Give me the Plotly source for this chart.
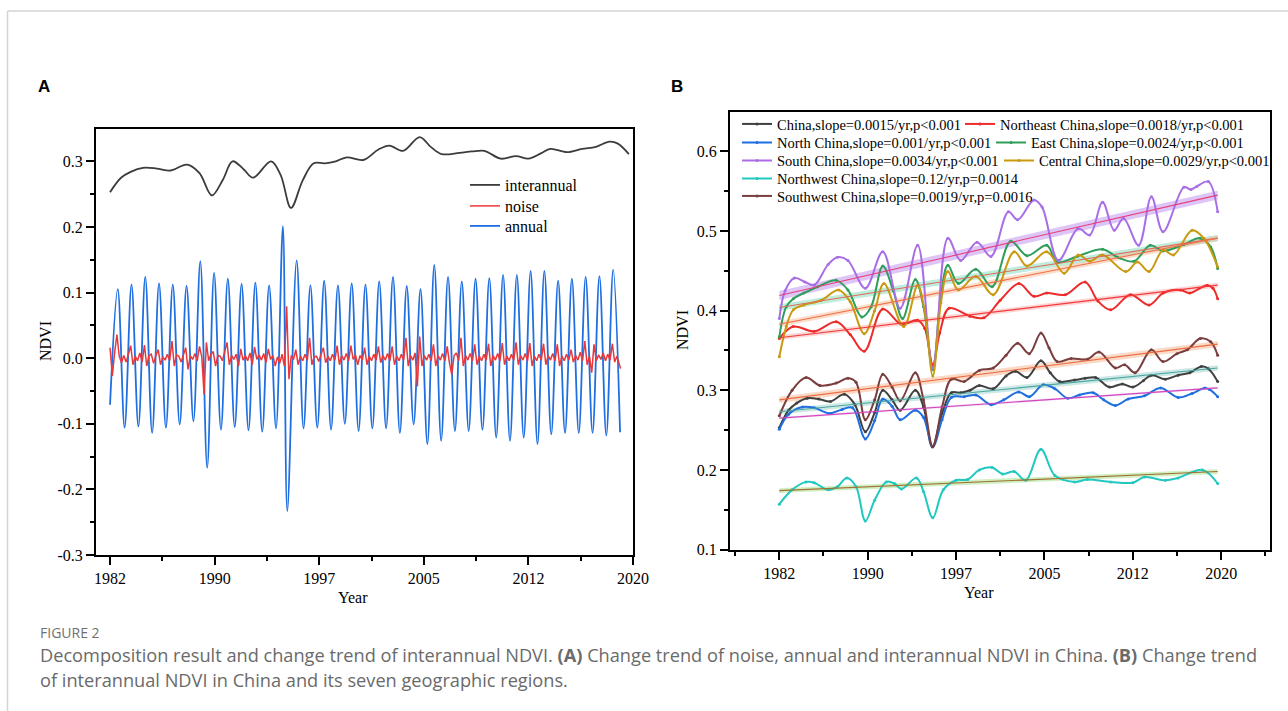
import plotly.graph_objects as go

W, H = 1288, 711
SERIF = "Liberation Serif"

# ------------------------------------------------------------------ Panel A data
ANNUAL_START = -0.071  # value at 1982.0
# annual-component peaks (one per year, mid-year), 1982..2018
ANNUAL_PEAKS = [0.105, 0.112, 0.124, 0.114, 0.112, 0.110, 0.148, 0.130, 0.121, 0.113,
                0.115, 0.111, 0.201, 0.149, 0.111, 0.118, 0.111, 0.114, 0.112, 0.117,
                0.124, 0.110, 0.105, 0.142, 0.124, 0.117, 0.121, 0.122, 0.127, 0.127,
                0.133, 0.133, 0.118, 0.121, 0.124, 0.125, 0.135]
# annual-component troughs (start of each year), 1983..2019
ANNUAL_TROUGHS = [-0.106, -0.104, -0.114, -0.106, -0.101, -0.096, -0.167, -0.109, -0.105, -0.110,
                  -0.112, -0.107, -0.233, -0.107, -0.106, -0.109, -0.100, -0.111, -0.107, -0.107,
                  -0.114, -0.101, -0.131, -0.126, -0.111, -0.111, -0.109, -0.121, -0.126, -0.121,
                  -0.131, -0.116, -0.114, -0.114, -0.114, -0.118, -0.113]
PEAK_PHASE = 0.56
TROUGH_PHASE = 0.06
TROUGH_PHASE_1995 = -0.12

# noise component, six readings per year 1982..2018, then the final reading
NOISE_ROWS = [
    [0.016, -0.027, 0.008, 0.036, 0.003, -0.007],
    [0.004, -0.006, 0.006, 0.019, -0.010, 0.003],
    [-0.004, 0.008, -0.006, 0.020, -0.012, 0.004],
    [0.006, -0.008, 0.004, 0.013, -0.010, 0.002],
    [-0.003, 0.006, -0.004, 0.026, -0.012, 0.005],
    [0.003, -0.006, 0.005, 0.016, -0.017, 0.004],
    [-0.002, 0.007, -0.004, 0.018, 0.002, -0.055],
    [0.024, -0.004, 0.006, 0.010, -0.012, 0.004],
    [0.003, -0.004, 0.010, 0.024, -0.010, 0.004],
    [-0.002, 0.006, -0.012, 0.014, -0.003, 0.004],
    [-0.004, 0.008, -0.010, 0.017, -0.002, 0.005],
    [-0.003, 0.007, -0.007, 0.014, -0.002, 0.004],
    [-0.012, 0.002, -0.008, 0.006, -0.012, 0.079],
    [-0.032, 0.004, -0.002, 0.013, -0.010, 0.003],
    [-0.004, 0.006, -0.003, 0.031, -0.010, 0.002],
    [0.003, -0.005, 0.006, 0.016, -0.007, 0.003],
    [-0.004, 0.006, -0.003, 0.019, -0.010, 0.004],
    [-0.003, 0.007, -0.004, 0.019, -0.002, 0.005],
    [-0.010, 0.004, -0.003, 0.016, -0.010, 0.003],
    [-0.004, 0.006, -0.003, 0.018, -0.007, 0.004],
    [-0.003, 0.007, -0.004, 0.018, -0.010, 0.003],
    [-0.004, 0.006, -0.003, 0.031, -0.012, 0.004],
    [-0.003, 0.008, -0.043, 0.033, -0.012, 0.004],
    [-0.003, 0.006, -0.004, 0.021, -0.012, 0.004],
    [-0.003, 0.007, -0.004, 0.018, -0.008, -0.025],
    [0.004, 0.008, -0.004, 0.031, -0.012, 0.004],
    [-0.003, 0.007, -0.004, 0.021, -0.010, 0.003],
    [-0.004, 0.006, -0.003, 0.022, -0.012, 0.004],
    [-0.003, 0.007, -0.004, 0.023, -0.010, 0.003],
    [-0.004, 0.006, -0.003, 0.024, -0.010, 0.004],
    [-0.003, 0.007, -0.004, 0.023, -0.012, 0.003],
    [-0.004, 0.006, -0.003, 0.022, -0.010, 0.004],
    [-0.003, 0.007, -0.004, 0.021, -0.012, 0.003],
    [-0.004, 0.006, -0.003, 0.013, -0.006, 0.004],
    [-0.003, 0.009, -0.004, 0.026, -0.010, 0.003],
    [-0.022, 0.021, -0.004, 0.005, -0.002, 0.008],
    [-0.004, 0.006, -0.003, 0.022, -0.006, 0.003],
]
NOISE_END = -0.016
NOISE_END_YEAR = 2019.1

# ------------------------------------------------------------------ Panel B data
CHINA_T = [1982.0, 1982.8, 1983.5, 1984.4, 1985.4, 1986.4, 1987.6, 1988.5, 1989.4, 1990.2,
           1990.9, 1991.7, 1992.4, 1993.7, 1994.4, 1995.15, 1996.0, 1996.8, 1997.6, 1998.4,
           1999.2, 2000.4, 2001.5, 2002.3, 2003.3, 2004.5, 2005.3, 2006.1, 2007.4, 2008.3,
           2009.2, 2010.4, 2011.5, 2012.4, 2013.3, 2014.0, 2015.2, 2016.3, 2017.3, 2018.3,
           2018.9, 2019.7]
CHINA_V = [0.253, 0.275, 0.284, 0.290, 0.289, 0.286, 0.295, 0.282, 0.248, 0.272,
           0.300, 0.288, 0.275, 0.300, 0.279, 0.229, 0.271, 0.297, 0.297, 0.300,
           0.306, 0.302, 0.318, 0.324, 0.316, 0.337, 0.322, 0.311, 0.313, 0.315,
           0.316, 0.304, 0.308, 0.304, 0.312, 0.319, 0.314, 0.319, 0.322, 0.330,
           0.327, 0.311]

NE_T = [1982.0, 1983.2, 1985.0, 1986.9, 1988.1, 1989.3, 1990.9, 1992.5, 1993.9, 1994.5,
        1995.2, 1995.8, 1996.6, 1998.4, 1999.6, 2001.0, 2002.6, 2003.9, 2005.0, 2006.6,
        2008.3, 2009.4, 2010.5, 2012.2, 2013.8, 2015.0, 2016.5, 2017.3, 2018.8, 2019.3,
        2019.7]
NE_V = [0.365, 0.380, 0.374, 0.386, 0.370, 0.349, 0.402, 0.383, 0.388, 0.378,
        0.332, 0.372, 0.403, 0.393, 0.391, 0.413, 0.434, 0.418, 0.422, 0.420,
        0.436, 0.412, 0.401, 0.420, 0.407, 0.422, 0.426, 0.422, 0.432, 0.428,
        0.415]

NORTH_T = [1982.0, 1982.8, 1984.0, 1985.0, 1986.3, 1987.4, 1988.3, 1989.4, 1990.2, 1990.9,
           1991.7, 1992.4, 1993.7, 1994.4, 1995.2, 1996.0, 1996.8, 1997.9, 1998.9, 2000.2,
           2001.3, 2002.6, 2003.5, 2004.7, 2005.7, 2006.8, 2007.8, 2009.0, 2009.9, 2010.9,
           2012.0, 2013.4, 2014.8, 2016.3, 2017.5, 2018.6, 2019.0, 2019.7]
NORTH_V = [0.251, 0.270, 0.279, 0.278, 0.271, 0.276, 0.278, 0.239, 0.262, 0.289,
           0.280, 0.263, 0.275, 0.266, 0.229, 0.263, 0.291, 0.292, 0.294, 0.282,
           0.288, 0.298, 0.292, 0.307, 0.302, 0.290, 0.294, 0.297, 0.288, 0.281,
           0.289, 0.293, 0.303, 0.291, 0.296, 0.303, 0.301, 0.292]

EAST_T = [1982.0, 1982.6, 1983.2, 1984.1, 1985.3, 1986.9, 1987.9, 1989.1, 1989.9, 1990.9,
          1991.8, 1992.6, 1993.7, 1994.4, 1995.2, 1995.9, 1996.5, 1997.4, 1998.9, 2000.3,
          2001.9, 2003.3, 2005.0, 2005.9, 2007.6, 2009.8, 2011.1, 2012.5, 2013.9, 2015.0,
          2016.8, 2018.2, 2019.1, 2019.7]
EAST_V = [0.367, 0.405, 0.415, 0.422, 0.430, 0.438, 0.426, 0.392, 0.405, 0.456,
          0.425, 0.390, 0.439, 0.405, 0.326, 0.420, 0.457, 0.434, 0.452, 0.430,
          0.487, 0.469, 0.482, 0.461, 0.468, 0.477, 0.467, 0.462, 0.482, 0.475,
          0.483, 0.491, 0.480, 0.453]

SOUTH_T = [1982.0, 1982.5, 1983.3, 1984.2, 1985.0, 1986.2, 1987.0, 1987.9, 1989.4, 1990.9,
           1992.4, 1993.9, 1995.2, 1996.5, 1997.6, 1999.0, 2000.2, 2001.7, 2002.5, 2003.9,
           2004.6, 2006.0, 2007.7, 2008.7, 2009.8, 2010.8, 2011.6, 2012.9, 2014.0, 2015.0,
           2016.8, 2017.4, 2017.9, 2018.9, 2019.7]
SOUTH_V = [0.390, 0.425, 0.441, 0.436, 0.432, 0.458, 0.467, 0.463, 0.428, 0.474,
           0.403, 0.482, 0.328, 0.491, 0.463, 0.486, 0.468, 0.524, 0.514, 0.539,
           0.530, 0.463, 0.503, 0.495, 0.536, 0.501, 0.516, 0.482, 0.543, 0.499,
           0.555, 0.552, 0.556, 0.562, 0.524]

CENTRAL_T = [1982.0, 1982.6, 1983.2, 1984.1, 1985.6, 1987.1, 1988.1, 1989.3, 1990.2, 1991.0,
             1992.7, 1993.9, 1994.5, 1995.2, 1995.9, 1996.5, 1997.4, 1998.9, 2000.4, 2002.2,
             2003.3, 2005.0, 2006.5, 2007.7, 2008.7, 2009.8, 2011.8, 2012.8, 2013.8, 2015.0,
             2015.9, 2017.5, 2018.5, 2019.7]
CENTRAL_V = [0.342, 0.380, 0.401, 0.407, 0.413, 0.426, 0.411, 0.371, 0.400, 0.434,
             0.380, 0.432, 0.400, 0.318, 0.410, 0.449, 0.426, 0.443, 0.420, 0.474,
             0.456, 0.474, 0.447, 0.470, 0.462, 0.470, 0.449, 0.461, 0.449, 0.476,
             0.470, 0.501, 0.491, 0.455]

NW_T = [1982.0, 1983.1, 1984.3, 1985.0, 1986.2, 1987.0, 1987.8, 1988.6, 1989.4, 1990.2,
        1991.2, 1991.9, 1992.5, 1993.8, 1994.4, 1995.2, 1996.1, 1997.2, 1998.2, 1999.2,
        2000.3, 2001.2, 2002.2, 2003.2, 2004.5, 2005.7, 2007.4, 2008.5, 2010.5, 2012.4,
        2013.4, 2015.2, 2016.3, 2018.4, 2019.7]
NW_V = [0.157, 0.175, 0.185, 0.184, 0.175, 0.179, 0.190, 0.179, 0.136, 0.162,
        0.185, 0.183, 0.176, 0.190, 0.173, 0.140, 0.175, 0.187, 0.188, 0.200,
        0.203, 0.195, 0.198, 0.187, 0.226, 0.193, 0.185, 0.188, 0.185, 0.184,
        0.191, 0.187, 0.190, 0.200, 0.183]

SW_T = [1982.0, 1983.1, 1984.3, 1985.5, 1986.9, 1987.9, 1988.6, 1989.4, 1990.2, 1990.9,
        1991.7, 1992.4, 1993.7, 1994.4, 1995.2, 1996.0, 1996.8, 1997.9, 1999.2, 2000.4,
        2001.5, 2002.5, 2003.5, 2004.5, 2005.2, 2005.9, 2007.1, 2008.5, 2009.5, 2010.9,
        2011.7, 2012.6, 2014.0, 2015.0, 2016.2, 2017.1, 2018.2, 2019.1, 2019.7]
SW_V = [0.268, 0.300, 0.316, 0.306, 0.309, 0.315, 0.310, 0.263, 0.288, 0.320,
        0.304, 0.287, 0.322, 0.288, 0.229, 0.279, 0.314, 0.311, 0.325, 0.328,
        0.344, 0.359, 0.346, 0.372, 0.353, 0.336, 0.340, 0.339, 0.348, 0.328,
        0.332, 0.322, 0.351, 0.336, 0.346, 0.351, 0.365, 0.361, 0.344]

# linear trends: value at 1982.0 and at 2019.7, plus half-width of the confidence band
TREND_YEARS = [1982.0, 2019.7]
CHINA_TREND = [0.273, 0.328]
NE_TREND = [0.366, 0.432]
NORTH_TREND = [0.265, 0.303]
EAST_TREND = [0.404, 0.491]
SOUTH_TREND = [0.419, 0.545]
CENTRAL_TREND = [0.383, 0.491]
NW_TREND = [0.174, 0.198]
SW_TREND = [0.288, 0.358]
BAND_HW = [0.0035, 0.003, 0.0015, 0.004, 0.0055, 0.0035, 0.003, 0.004]

NAMES = ["China,slope=0.0015/yr,p<0.001", "Northeast China,slope=0.0018/yr,p<0.001",
         "North China,slope=0.001/yr,p<0.001", "East China,slope=0.0024/yr,p<0.001",
         "South China,slope=0.0034/yr,p<0.001", "Central China,slope=0.0029/yr,p<0.001",
         "Northwest China,slope=0.12/yr,p=0.0014", "Southwest China,slope=0.0019/yr,p=0.0016"]

MAJOR_TICKS = [1982, 1989.6, 1997.2, 2004.8, 2012.4, 2020]
MAJOR_LABELS = ["1982", "1990", "1997", "2005", "2012", "2020"]

# ------------------------------------------------------------------ build panel A series
ann_x, ann_y = [1982.0], [ANNUAL_START]
for i, p in enumerate(ANNUAL_PEAKS):
    yr = 1982 + i
    ann_x.append(yr + PEAK_PHASE)
    ann_y.append(p)
    ty = yr + 1
    ann_x.append(ty + (TROUGH_PHASE_1995 if ty == 1995 else TROUGH_PHASE))
    ann_y.append(ANNUAL_TROUGHS[i])

noise_x, noise_y = [], []
for i, row in enumerate(NOISE_ROWS):
    for j, v in enumerate(row):
        noise_x.append(1982 + i + j / 6.0)
        noise_y.append(v)
noise_x.append(NOISE_END_YEAR)
noise_y.append(NOISE_END)

fig = go.Figure()

fig.add_trace(go.Scatter(x=CHINA_T, y=CHINA_V, mode="lines", name="interannual",
                         line=dict(color="#3c3c3c", width=1.8, shape="spline", smoothing=1),
                         xaxis="x", yaxis="y", legend="legend"))
fig.add_trace(go.Scatter(x=ann_x, y=ann_y, mode="lines", name="annual",
                         line=dict(color="#1f6fe0", width=1.8, shape="spline", smoothing=1),
                         xaxis="x", yaxis="y", legend="legend3"))
fig.add_trace(go.Scatter(x=noise_x, y=noise_y, mode="lines", name="noise",
                         line=dict(color="#e8383c", width=1.5),
                         xaxis="x", yaxis="y", legend="legend2"))

# ------------------------------------------------------------------ panel B
series = [
    (CHINA_T, CHINA_V, CHINA_TREND, "#404040", "#4aa6a0", "rgba(90,180,170,0.30)"),
    (NE_T, NE_V, NE_TREND, "#ee2b2b", "#f23a3a", "rgba(250,150,150,0.40)"),
    (NORTH_T, NORTH_V, NORTH_TREND, "#1f6fe0", "#d048c0", "rgba(210,90,200,0.20)"),
    (EAST_T, EAST_V, EAST_TREND, "#2e9e5a", "#e06a5a", "rgba(110,215,180,0.45)"),
    (SOUTH_T, SOUTH_V, SOUTH_TREND, "#a96ee6", "#e8407a", "rgba(190,140,240,0.50)"),
    (CENTRAL_T, CENTRAL_V, CENTRAL_TREND, "#c99a10", "#f07048", "rgba(245,180,140,0.45)"),
    (NW_T, NW_V, NW_TREND, "#22c8c0", "#a07030", "rgba(150,220,120,0.45)"),
    (SW_T, SW_V, SW_TREND, "#7a3e3e", "#ec6a40", "rgba(245,170,130,0.45)"),
]

for k, (t, v, tr, col, tcol, bcol) in enumerate(series):
    hw = BAND_HW[k]
    fig.add_trace(go.Scatter(x=TREND_YEARS, y=[tr[0] - hw, tr[1] - hw], mode="lines",
                             line=dict(width=0, color=bcol), showlegend=False,
                             hoverinfo="skip", xaxis="x2", yaxis="y2"))
    fig.add_trace(go.Scatter(x=TREND_YEARS, y=[tr[0] + hw, tr[1] + hw], mode="lines",
                             line=dict(width=0, color=bcol), fill="tonexty", fillcolor=bcol,
                             showlegend=False, hoverinfo="skip", xaxis="x2", yaxis="y2"))

for k, (t, v, tr, col, tcol, bcol) in enumerate(series):
    fig.add_trace(go.Scatter(x=t, y=v, mode="lines+markers", name=NAMES[k],
                             line=dict(color=col, width=2, shape="spline", smoothing=1),
                             marker=dict(color=col, size=3),
                             xaxis="x2", yaxis="y2", legend="legend%d" % (k + 4)))

for k, (t, v, tr, col, tcol, bcol) in enumerate(series):
    fig.add_trace(go.Scatter(x=TREND_YEARS, y=tr, mode="lines",
                             line=dict(color=tcol, width=1.1), showlegend=False,
                             hoverinfo="skip", xaxis="x2", yaxis="y2"))

# ------------------------------------------------------------------ layout
def px_x(v):
    return v / W


def px_y(v):
    return 1 - v / H


def legend_at(text_x, center_y, size):
    return dict(x=px_x(text_x - 40), y=px_y(center_y), xanchor="left", yanchor="middle",
                bgcolor="rgba(0,0,0,0)", borderwidth=0, itemwidth=30,
                font=dict(family=SERIF, size=size, color="black"))


axis_common = dict(showline=True, linecolor="black", linewidth=2, mirror=True,
                   ticks="outside", ticklen=8, tickwidth=1.5, tickcolor="black",
                   showgrid=False, zeroline=False, automargin=False,
                   tickfont=dict(family=SERIF, size=16, color="black"))

A_Y_TICKS = [-0.3, -0.2, -0.1, 0.0, 0.1, 0.2, 0.3]
A_Y_LABELS = ["-0.3", "-0.2", "-0.1", "0.0", "0.1", "0.2", "0.3"]
B_Y_TICKS = [0.1, 0.2, 0.3, 0.4, 0.5, 0.6]
B_Y_LABELS = ["0.1", "0.2", "0.3", "0.4", "0.5", "0.6"]

fig.update_layout(
    width=W, height=H, autosize=False,
    margin=dict(l=0, r=0, t=0, b=0),
    paper_bgcolor="white", plot_bgcolor="white",
    showlegend=True,
    xaxis=dict(axis_common, domain=[px_x(96), px_x(633)], range=[1980.98, 2020.0],
               tickmode="array", tickvals=MAJOR_TICKS, ticktext=MAJOR_LABELS,
               minor=dict(tickmode="array", tickvals=[1985.8, 1993.4, 2001.0, 2008.6, 2016.2],
                          ticklen=4, tickwidth=1.5, ticks="outside", tickcolor="black"),
               anchor="y"),
    yaxis=dict(axis_common, domain=[px_y(555), px_y(128.5)], range=[-0.3, 0.35],
               tickmode="array", tickvals=A_Y_TICKS, ticktext=A_Y_LABELS,
               minor=dict(tickmode="array", tickvals=[-0.25, -0.15, -0.05, 0.05, 0.15, 0.25],
                          ticklen=4, tickwidth=1.5, ticks="outside", tickcolor="black"),
               anchor="x"),
    xaxis2=dict(axis_common, domain=[px_x(730), px_x(1270)], range=[1977.76, 2024.2],
                tickmode="array", tickvals=MAJOR_TICKS, ticktext=MAJOR_LABELS,
                minor=dict(tickmode="array",
                           tickvals=[1978.2, 1985.8, 1993.4, 2001.0, 2008.6, 2016.2, 2023.8],
                           ticklen=4, tickwidth=1.5, ticks="outside", tickcolor="black"),
                anchor="y2"),
    yaxis2=dict(axis_common, domain=[px_y(549.6), px_y(111.5)], range=[0.1, 0.65],
                tickmode="array", tickvals=B_Y_TICKS, ticktext=B_Y_LABELS,
                minor=dict(tickmode="array", tickvals=[0.15, 0.25, 0.35, 0.45, 0.55],
                           ticklen=4, tickwidth=1.5, ticks="outside", tickcolor="black"),
                anchor="x2"),
    legend=legend_at(505, 185, 16),
    legend2=legend_at(505, 206, 16),
    legend3=legend_at(505, 226, 16),
    legend4=legend_at(777, 124, 14.5),
    legend5=legend_at(1000, 124, 14.5),
    legend6=legend_at(777, 142.5, 14.5),
    legend7=legend_at(1031, 142.5, 14.5),
    legend8=legend_at(777, 160.5, 14.5),
    legend9=legend_at(1039, 160.5, 14.5),
    legend10=legend_at(777, 178.5, 14.5),
    legend11=legend_at(777, 196, 14.5),
)

annotations = [
    dict(text="<b>A</b>", x=px_x(36), y=px_y(86),
         font=dict(family="Liberation Sans", size=17, color="black"),
         xanchor="left", yanchor="middle"),
    dict(text="<b>B</b>", x=px_x(669), y=px_y(86),
         font=dict(family="Liberation Sans", size=17, color="black"),
         xanchor="left", yanchor="middle"),
    dict(text="NDVI", x=px_x(45), y=px_y(341), textangle=-90,
         font=dict(family=SERIF, size=16, color="black"), xanchor="center", yanchor="middle"),
    dict(text="Year", x=px_x(353), y=px_y(597),
         font=dict(family=SERIF, size=16, color="black"), xanchor="center", yanchor="middle"),
    dict(text="NDVI", x=px_x(682), y=px_y(330), textangle=-90,
         font=dict(family=SERIF, size=16, color="black"), xanchor="center", yanchor="middle"),
    dict(text="Year", x=px_x(979), y=px_y(592),
         font=dict(family=SERIF, size=16, color="black"), xanchor="center", yanchor="middle"),
    dict(text="FIGURE 2", x=px_x(38), y=px_y(632),
         font=dict(family="Open Sans", size=14, color="#707070"), xanchor="left", yanchor="middle"),
    dict(text="Decomposition result and change trend of interannual NDVI. <b>(A)</b> Change trend of noise, "
              "annual and interannual NDVI in China. <b>(B)</b> Change trend",
         x=px_x(38), y=px_y(655),
         font=dict(family="Open Sans", size=18.2, color="#6a6a6a"), xanchor="left", yanchor="middle"),
    dict(text="of interannual NDVI in China and its seven geographic regions.",
         x=px_x(38), y=px_y(680),
         font=dict(family="Open Sans", size=18.2, color="#6a6a6a"), xanchor="left", yanchor="middle"),
]
for a in annotations:
    a.update(xref="paper", yref="paper", showarrow=False)
fig.update_layout(annotations=annotations)

fig.update_layout(shapes=[
    dict(type="line", xref="paper", yref="paper", x0=px_x(7.5), x1=1, y0=px_y(11), y1=px_y(11),
         line=dict(color="#d4d4d4", width=1.5)),
    dict(type="line", xref="paper", yref="paper", x0=px_x(7.5), x1=px_x(7.5), y0=0, y1=px_y(11),
         line=dict(color="#d4d4d4", width=1.5)),
])

fig.write_html("out.html")
